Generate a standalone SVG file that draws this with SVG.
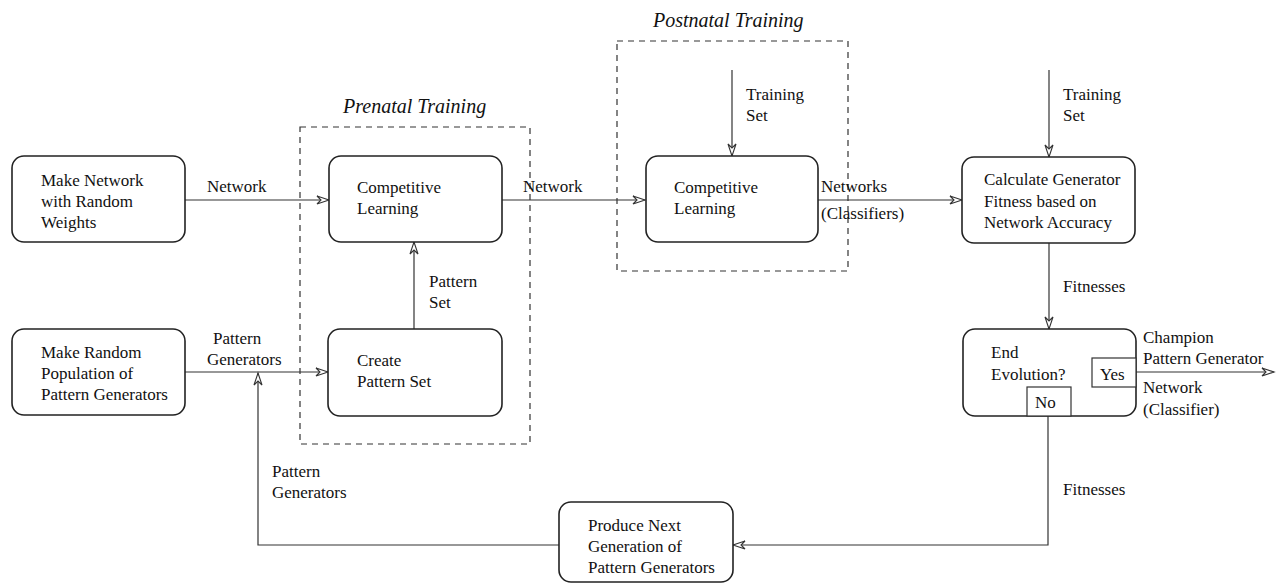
<svg xmlns="http://www.w3.org/2000/svg" width="1276" height="584" viewBox="0 0 1276 584">
<style>
  .box { fill: #fff; stroke: #222; stroke-width: 1.6; }
  .sub { fill: #fff; stroke: #333; stroke-width: 1.2; }
  .dash { fill: none; stroke: #333; stroke-width: 1.2; stroke-dasharray: 6 5; }
  .conn { fill: none; stroke: #333; stroke-width: 1.2; }
  text { font-family: "Liberation Serif", "Times New Roman", serif; font-size: 17px; fill: #111; }
  .title { font-style: italic; font-size: 20px; }
</style>
<defs>
  <marker id="arr" markerUnits="userSpaceOnUse" markerWidth="16" markerHeight="12" refX="13" refY="5" orient="auto">
    <path d="M1,1 L13,5 L1,9 L5,5 Z" fill="#fff" stroke="#333" stroke-width="1.1"/>
  </marker>
</defs>
<rect width="1276" height="584" fill="#fff"/>

<g id="prenatal-frame">
  <rect class="dash" x="300" y="127" width="230" height="317"/>
  <text class="title" x="343" y="113">Prenatal Training</text>
</g>
<g id="postnatal-frame">
  <rect class="dash" x="617" y="41" width="231" height="230"/>
  <text class="title" x="653" y="27">Postnatal Training</text>
</g>

<g id="connectors">
  <path class="conn" d="M185,200 L329,200" marker-end="url(#arr)"/>
  <text x="207" y="192">Network</text>
  <path class="conn" d="M502,200 L645,200" marker-end="url(#arr)"/>
  <text x="523" y="192">Network</text>
  <path class="conn" d="M732,70 L732,156" marker-end="url(#arr)"/>
  <text x="746" y="100">Training</text>
  <text x="746" y="121">Set</text>
  <path class="conn" d="M818,200 L962,200" marker-end="url(#arr)"/>
  <text x="821" y="192">Networks</text>
  <text x="821" y="219">(Classifiers)</text>
  <path class="conn" d="M1049,70 L1049,157" marker-end="url(#arr)"/>
  <text x="1063" y="100">Training</text>
  <text x="1063" y="121">Set</text>
  <path class="conn" d="M414,329 L414,242" marker-end="url(#arr)"/>
  <text x="429" y="287">Pattern</text>
  <text x="429" y="308">Set</text>
  <path class="conn" d="M185,372 L328,372" marker-end="url(#arr)"/>
  <text x="213" y="344">Pattern</text>
  <text x="207" y="365">Generators</text>
  <path class="conn" d="M1049,243 L1049,329" marker-end="url(#arr)"/>
  <text x="1063" y="292">Fitnesses</text>
  <path class="conn" d="M1136,372 L1274,372" marker-end="url(#arr)"/>
  <text x="1143" y="343">Champion</text>
  <text x="1143" y="364">Pattern Generator</text>
  <text x="1143" y="393">Network</text>
  <text x="1143" y="415">(Classifier)</text>
  <path class="conn" d="M1048,416 L1048,545 L733,545" marker-end="url(#arr)"/>
  <text x="1063" y="495">Fitnesses</text>
  <path class="conn" d="M559,545 L258,545 L258,373" marker-end="url(#arr)"/>
  <text x="272" y="477">Pattern</text>
  <text x="272" y="498">Generators</text>
</g>

<g id="make-network">
  <rect class="box" x="12" y="156" width="173" height="86" rx="12"/>
  <text x="41" y="186">Make Network</text>
  <text x="41" y="207">with Random</text>
  <text x="41" y="228">Weights</text>
</g>
<g id="make-population">
  <rect class="box" x="12" y="329" width="173" height="86" rx="12"/>
  <text x="41" y="358">Make Random</text>
  <text x="41" y="379">Population of</text>
  <text x="41" y="400">Pattern Generators</text>
</g>
<g id="competitive-prenatal">
  <rect class="box" x="329" y="156" width="173" height="86" rx="12"/>
  <text x="357" y="193">Competitive</text>
  <text x="357" y="214">Learning</text>
</g>
<g id="create-pattern-set">
  <rect class="box" x="328" y="329" width="174" height="87" rx="12"/>
  <text x="357" y="366">Create</text>
  <text x="357" y="387">Pattern Set</text>
</g>
<g id="competitive-postnatal">
  <rect class="box" x="646" y="156" width="172" height="86" rx="12"/>
  <text x="674" y="193">Competitive</text>
  <text x="674" y="214">Learning</text>
</g>
<g id="calculate-fitness">
  <rect class="box" x="962" y="157" width="173" height="86" rx="12"/>
  <text x="984" y="185">Calculate Generator</text>
  <text x="984" y="207">Fitness based on</text>
  <text x="984" y="228">Network Accuracy</text>
</g>
<g id="end-evolution">
  <rect class="box" x="963" y="329" width="173" height="87" rx="12"/>
  <text x="991" y="358">End</text>
  <text x="991" y="380">Evolution?</text>
  <rect class="sub" x="1092" y="358" width="44" height="29"/>
  <text x="1100" y="380">Yes</text>
  <rect class="sub" x="1027" y="387" width="44" height="29"/>
  <text x="1035" y="408">No</text>
</g>
<g id="produce-next">
  <rect class="box" x="559" y="502" width="174" height="80" rx="12"/>
  <text x="588" y="531">Produce Next</text>
  <text x="588" y="552">Generation of</text>
  <text x="588" y="573">Pattern Generators</text>
</g>
</svg>
